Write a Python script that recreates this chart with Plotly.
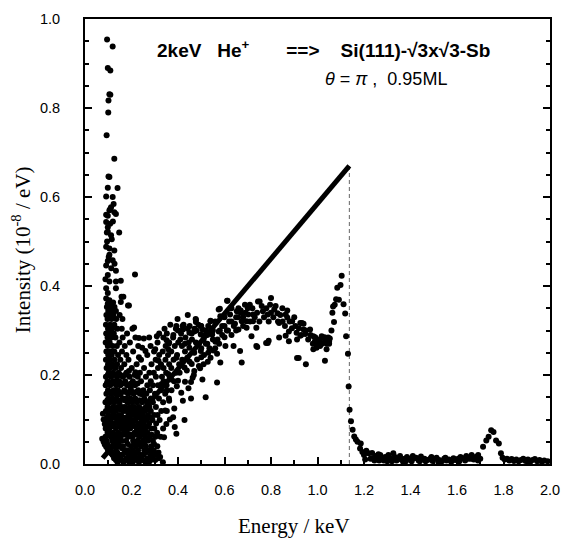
import plotly.graph_objects as go

# ---------------- data ----------------
# left spike at low energy
spike_x = [0.095, 0.119, 0.098, 0.109, 0.105, 0.109, 0.101, 0.100, 0.093, 0.126,
           0.101, 0.105, 0.098, 0.140, 0.091, 0.119, 0.123, 0.112, 0.105, 0.126,
           0.091, 0.109, 0.133, 0.098, 0.091, 0.098, 0.147, 0.098, 0.112, 0.091,
           0.105, 0.126, 0.105, 0.119, 0.098, 0.091, 0.133, 0.215, 0.098, 0.088,
           0.105, 0.133, 0.154, 0.091, 0.133, 0.098, 0.165, 0.091, 0.105, 0.154,
           0.098, 0.185, 0.112, 0.157, 0.189, 0.211, 0.232, 0.253, 0.246, 0.260,
           0.232, 0.189, 0.217, 0.196, 0.168, 0.147, 0.246, 0.115, 0.095, 0.108,
           0.120, 0.102, 0.113, 0.127, 0.094]
spike_y = [0.954, 0.938, 0.890, 0.884, 0.831, 0.830, 0.817, 0.790, 0.739, 0.686,
           0.646, 0.645, 0.621, 0.620, 0.601, 0.600, 0.584, 0.577, 0.570, 0.566,
           0.560, 0.573, 0.562, 0.558, 0.544, 0.532, 0.520, 0.522, 0.514, 0.488,
           0.484, 0.480, 0.470, 0.458, 0.456, 0.446, 0.434, 0.426, 0.425, 0.415,
           0.410, 0.410, 0.412, 0.395, 0.395, 0.384, 0.376, 0.372, 0.368, 0.364,
           0.360, 0.356, 0.355, 0.376, 0.356, 0.307, 0.283, 0.282, 0.261, 0.254,
           0.240, 0.209, 0.206, 0.172, 0.163, 0.157, 0.157, 0.505, 0.500, 0.540,
           0.545, 0.465, 0.440, 0.450, 0.520]

# dense low-energy cloud, listed row by row (intensity level, energies in that row)
cloud_levels = [0.004, 0.013, 0.021, 0.031, 0.040, 0.052, 0.061, 0.070, 0.080, 0.091,
                0.099, 0.110, 0.119, 0.128, 0.139, 0.147, 0.158, 0.166, 0.177, 0.186,
                0.196, 0.205, 0.216, 0.224, 0.234, 0.245, 0.253, 0.265, 0.273, 0.284,
                0.293, 0.304, 0.313, 0.326, 0.335, 0.344, 0.353, 0.363,
                0.009, 0.026, 0.045, 0.066, 0.085, 0.104, 0.123, 0.143, 0.162, 0.181,
                0.200]
cloud_rows = [
    [0.140, 0.165, 0.190, 0.205, 0.232, 0.260, 0.275, 0.335],
    [0.125, 0.152, 0.178, 0.196, 0.222, 0.243, 0.268, 0.290, 0.318],
    [0.118, 0.147, 0.160, 0.187, 0.214, 0.237, 0.251, 0.283, 0.305],
    [0.108, 0.133, 0.171, 0.182, 0.206, 0.228, 0.255, 0.272, 0.296],
    [0.101, 0.128, 0.149, 0.163, 0.198, 0.219, 0.241, 0.262, 0.285, 0.311],
    [0.093, 0.117, 0.139, 0.158, 0.177, 0.207, 0.226, 0.249, 0.270, 0.292],
    [0.088, 0.112, 0.131, 0.152, 0.186, 0.203, 0.234, 0.258, 0.279, 0.303, 0.325],
    [0.097, 0.121, 0.143, 0.167, 0.181, 0.213, 0.229, 0.247, 0.268, 0.310],
    [0.089, 0.106, 0.133, 0.157, 0.175, 0.194, 0.222, 0.238, 0.259, 0.284, 0.298, 0.336],
    [0.095, 0.117, 0.127, 0.148, 0.168, 0.188, 0.206, 0.231, 0.252, 0.276, 0.306],
    [0.086, 0.109, 0.138, 0.161, 0.179, 0.199, 0.216, 0.244, 0.266, 0.290, 0.321],
    [0.100, 0.122, 0.145, 0.155, 0.187, 0.208, 0.226, 0.249, 0.271, 0.297, 0.312],
    [0.090, 0.113, 0.131, 0.166, 0.178, 0.197, 0.219, 0.238, 0.257, 0.283, 0.328, 0.352],
    [0.097, 0.120, 0.140, 0.158, 0.171, 0.192, 0.212, 0.233, 0.262, 0.277, 0.305],
    [0.088, 0.107, 0.126, 0.149, 0.183, 0.203, 0.224, 0.246, 0.269, 0.292, 0.336],
    [0.101, 0.118, 0.136, 0.162, 0.176, 0.195, 0.216, 0.255, 0.283, 0.318, 0.361],
    [0.092, 0.112, 0.131, 0.154, 0.186, 0.209, 0.236, 0.264, 0.301, 0.345],
    [0.099, 0.123, 0.141, 0.169, 0.198, 0.229, 0.251, 0.279, 0.327, 0.372],
    [0.089, 0.108, 0.134, 0.152, 0.181, 0.215, 0.268, 0.292, 0.314, 0.351],
    [0.097, 0.119, 0.128, 0.147, 0.173, 0.206, 0.241, 0.283, 0.338, 0.383],
    [0.090, 0.112, 0.138, 0.162, 0.192, 0.227, 0.262, 0.305, 0.331, 0.364],
    [0.102, 0.121, 0.145, 0.178, 0.236, 0.277, 0.296, 0.349, 0.392],
    [0.093, 0.109, 0.131, 0.155, 0.201, 0.254, 0.314, 0.338, 0.371],
    [0.099, 0.118, 0.138, 0.169, 0.222, 0.286, 0.327, 0.362, 0.405],
    [0.090, 0.107, 0.127, 0.152, 0.187, 0.241, 0.304, 0.346, 0.381, 0.418],
    [0.100, 0.115, 0.142, 0.178, 0.268, 0.319, 0.357, 0.396],
    [0.092, 0.109, 0.126, 0.159, 0.207, 0.297, 0.334, 0.371, 0.430],
    [0.098, 0.119, 0.137, 0.171, 0.229, 0.282, 0.347, 0.386, 0.417],
    [0.089, 0.106, 0.148, 0.193, 0.312, 0.362, 0.401, 0.446],
    [0.097, 0.114, 0.131, 0.162, 0.217, 0.276, 0.337, 0.379, 0.432],
    [0.091, 0.108, 0.124, 0.181, 0.319, 0.352, 0.413, 0.459],
    [0.099, 0.117, 0.139, 0.158, 0.204, 0.342, 0.391, 0.442, 0.471],
    [0.090, 0.108, 0.126, 0.367, 0.424, 0.488],
    [0.097, 0.114, 0.134, 0.161, 0.398, 0.476],
    [0.092, 0.106, 0.122, 0.149, 0.442],
    [0.100, 0.116, 0.133],
    [0.094, 0.109, 0.127],
    [0.102, 0.121],
    [0.133, 0.158, 0.184, 0.213, 0.247, 0.283, 0.302],
    [0.112, 0.139, 0.176, 0.201, 0.226, 0.262, 0.291, 0.316],
    [0.096, 0.122, 0.144, 0.184, 0.211, 0.233, 0.254, 0.297],
    [0.104, 0.126, 0.159, 0.174, 0.196, 0.221, 0.242, 0.287],
    [0.100, 0.122, 0.146, 0.166, 0.186, 0.214, 0.248, 0.271],
    [0.094, 0.119, 0.131, 0.151, 0.172, 0.193, 0.235, 0.258, 0.281],
    [0.105, 0.124, 0.149, 0.185, 0.204, 0.227, 0.248, 0.268],
    [0.096, 0.115, 0.142, 0.171, 0.191, 0.213, 0.235, 0.258],
    [0.104, 0.119, 0.146, 0.177, 0.193, 0.219, 0.245],
    [0.094, 0.116, 0.141, 0.161, 0.197, 0.226],
    [0.098, 0.125, 0.152, 0.172, 0.214],
]

# arcs in the lower-left corner
arc_x = [0.074, 0.080, 0.085, 0.091, 0.098, 0.105, 0.112, 0.120, 0.130, 0.140,
         0.077, 0.080, 0.085, 0.091, 0.098, 0.105, 0.112, 0.119, 0.130, 0.140,
         0.150, 0.161, 0.172, 0.185, 0.195, 0.204, 0.215]
arc_y = [0.057, 0.050, 0.044, 0.039, 0.033, 0.028, 0.024, 0.020, 0.016, 0.013,
         0.113, 0.100, 0.090, 0.083, 0.075, 0.068, 0.062, 0.057, 0.050, 0.044,
         0.039, 0.035, 0.029, 0.024, 0.020, 0.018, 0.015]

# broad band between 0.3 and 1.05 keV
band_x = [0.309, 0.351, 0.393, 0.421, 0.449, 0.477, 0.498, 0.540, 0.302, 0.316,
          0.358, 0.393, 0.358, 0.330, 0.400, 0.428, 0.456, 0.421, 0.456, 0.428,
          0.379, 0.393, 0.386, 0.323,
          0.440, 0.449, 0.470, 0.477, 0.477, 0.463, 0.470, 0.490, 0.498, 0.498,
          0.505, 0.505, 0.510, 0.519, 0.519, 0.526, 0.526, 0.540, 0.540, 0.547,
          0.568, 0.568, 0.575, 0.575, 0.580, 0.582, 0.582, 0.604, 0.611, 0.613,
          0.624, 0.639, 0.653, 0.660, 0.667, 0.674, 0.674, 0.688, 0.695, 0.695,
          0.702, 0.709, 0.716, 0.723, 0.723, 0.737, 0.737, 0.741, 0.744, 0.751,
          0.765, 0.779, 0.786, 0.786, 0.790, 0.796, 0.800, 0.814, 0.828, 0.835,
          0.835, 0.849, 0.863, 0.863, 0.870, 0.877, 0.877, 0.891, 0.905, 0.912,
          0.912, 0.919, 0.926, 0.926, 0.933, 0.940, 0.947, 0.950, 0.968, 0.982,
          0.982, 0.989, 0.996, 1.011, 1.018, 1.018, 1.032, 1.032, 1.039, 1.046,
          1.053,
          0.36, 0.38, 0.40, 0.41, 0.42, 0.43, 0.45, 0.46, 0.48, 0.49,
          0.50, 0.51, 0.52, 0.53, 0.55, 0.56, 0.57, 0.59, 0.60, 0.61,
          0.62, 0.63, 0.64, 0.65, 0.66, 0.67, 0.68, 0.69, 0.70, 0.71,
          0.72, 0.73, 0.74, 0.75, 0.76, 0.77, 0.78, 0.79, 0.80, 0.81,
          0.82, 0.83, 0.84, 0.85, 0.86, 0.87, 0.88, 0.89, 0.90, 0.91,
          0.92, 0.93, 0.94, 0.95, 0.96, 0.97, 0.98, 0.99, 1.00, 1.01,
          1.02, 1.03, 1.04, 1.05,
          0.45, 0.47, 0.50, 0.52, 0.55, 0.58, 0.60, 0.63, 0.65, 0.50,
          0.53, 0.56,
          0.345, 0.352, 0.362, 0.371, 0.384, 0.395, 0.407, 0.414, 0.430, 0.438,
          0.445, 0.459, 0.468, 0.482, 0.495, 0.512, 0.528, 0.535, 0.552, 0.561,
          0.577, 0.590, 0.600, 0.615, 0.630, 0.645, 0.658, 0.670, 0.680, 0.350,
          0.365, 0.340]
band_y = [0.287, 0.278, 0.310, 0.302, 0.295, 0.324, 0.310, 0.321, 0.258, 0.232,
          0.258, 0.239, 0.202, 0.180, 0.187, 0.217, 0.184, 0.142, 0.147, 0.099,
          0.105, 0.068, 0.083, 0.016,
          0.239, 0.261, 0.298, 0.319, 0.273, 0.194, 0.209, 0.220, 0.254, 0.291,
          0.302, 0.190, 0.224, 0.150, 0.291, 0.270, 0.290, 0.322, 0.239, 0.291,
          0.248, 0.183, 0.298, 0.347, 0.349, 0.332, 0.228, 0.265, 0.367, 0.367,
          0.336, 0.265, 0.343, 0.302, 0.254, 0.321, 0.228, 0.358, 0.306, 0.321,
          0.336, 0.358, 0.287, 0.321, 0.336, 0.306, 0.265, 0.263, 0.365, 0.365,
          0.343, 0.272, 0.336, 0.272, 0.277, 0.358, 0.373, 0.347, 0.339, 0.317,
          0.284, 0.350, 0.336, 0.288, 0.329, 0.298, 0.276, 0.321, 0.310, 0.280,
          0.238, 0.238, 0.317, 0.288, 0.317, 0.302, 0.292, 0.224, 0.302, 0.287,
          0.258, 0.276, 0.261, 0.265, 0.284, 0.287, 0.280, 0.232, 0.258, 0.284,
          0.282,
          0.270, 0.290, 0.300, 0.280, 0.310, 0.270, 0.310, 0.280, 0.300, 0.270,
          0.310, 0.280, 0.300, 0.310, 0.300, 0.320, 0.280, 0.310, 0.330, 0.300,
          0.320, 0.350, 0.310, 0.330, 0.350, 0.340, 0.310, 0.340, 0.350, 0.320,
          0.350, 0.330, 0.340, 0.320, 0.355, 0.330, 0.350, 0.320, 0.340, 0.330,
          0.355, 0.320, 0.335, 0.320, 0.310, 0.345, 0.320, 0.305, 0.330, 0.295,
          0.305, 0.290, 0.315, 0.300, 0.280, 0.290, 0.270, 0.285, 0.270, 0.280,
          0.270, 0.285, 0.270, 0.275,
          0.230, 0.250, 0.260, 0.270, 0.280, 0.300, 0.310, 0.320, 0.300, 0.240,
          0.250, 0.260,
          0.120, 0.165, 0.142, 0.190, 0.125, 0.175, 0.205, 0.160, 0.185, 0.210,
          0.170, 0.225, 0.200, 0.235, 0.215, 0.245, 0.230, 0.260, 0.255, 0.275,
          0.270, 0.290, 0.285, 0.300, 0.290, 0.315, 0.330, 0.345, 0.330, 0.090,
          0.100, 0.060]

# peak just below the edge and the sharp drop
peak_x = [1.050, 1.060, 1.064, 1.067, 1.071, 1.074, 1.080, 1.085, 1.092, 1.099,
          1.104, 1.112, 1.119, 1.123, 1.131, 1.134, 1.138, 1.144, 1.151, 1.158,
          1.165, 1.172, 1.183, 1.186, 1.193]
peak_y = [0.270, 0.300, 0.340, 0.354, 0.319, 0.358, 0.370, 0.396, 0.369, 0.402,
          0.423, 0.359, 0.338, 0.287, 0.248, 0.174, 0.122, 0.096, 0.077, 0.062,
          0.055, 0.050, 0.035, 0.046, 0.027]

# high-energy tail with the small peak near 1.75 keV
tail_x = [1.200, 1.210, 1.220, 1.235, 1.240, 1.250, 1.256, 1.265, 1.270, 1.280,
          1.291, 1.300, 1.305, 1.315, 1.326, 1.333, 1.340, 1.347, 1.355, 1.368,
          1.375, 1.385, 1.396, 1.405, 1.415, 1.424, 1.435, 1.445, 1.455, 1.465,
          1.473, 1.485, 1.495, 1.502, 1.512, 1.523, 1.535, 1.545, 1.555, 1.565,
          1.575, 1.585, 1.595, 1.605, 1.615, 1.628, 1.640, 1.650, 1.663, 1.672,
          1.680, 1.691, 1.700, 1.712, 1.726, 1.736, 1.747, 1.757, 1.768, 1.780,
          1.789, 1.796, 1.805, 1.815, 1.825, 1.835, 1.845, 1.855, 1.865, 1.875,
          1.885, 1.895, 1.905, 1.915, 1.925, 1.935, 1.945, 1.955, 1.965, 1.975,
          1.990,
          1.205, 1.228, 1.245, 1.262, 1.285, 1.310, 1.320, 1.360, 1.380, 1.410,
          1.440, 1.460, 1.490, 1.520, 1.550, 1.580, 1.610, 1.635, 1.660, 1.690]
tail_y = [0.020, 0.030, 0.024, 0.025, 0.012, 0.018, 0.016, 0.008, 0.020, 0.012,
          0.016, 0.006, 0.020, 0.010, 0.024, 0.016, 0.008, 0.013, 0.018, 0.005,
          0.012, 0.016, 0.011, 0.006, 0.013, 0.014, 0.008, 0.017, 0.010, 0.006,
          0.009, 0.012, 0.007, 0.011, 0.014, 0.009, 0.006, 0.012, 0.008, 0.010,
          0.005, 0.013, 0.009, 0.012, 0.016, 0.013, 0.018, 0.012, 0.020, 0.010,
          0.016, 0.020, 0.012, 0.039, 0.053, 0.061, 0.076, 0.072, 0.053, 0.046,
          0.024, 0.014, 0.010, 0.012, 0.008, 0.011, 0.007, 0.010, 0.006, 0.009,
          0.012, 0.007, 0.010, 0.005, 0.009, 0.011, 0.006, 0.009, 0.005, 0.008,
          0.006,
          0.010, 0.012, 0.008, 0.022, 0.008, 0.014, 0.006, 0.010, 0.006, 0.018,
          0.006, 0.012, 0.016, 0.004, 0.014, 0.008, 0.006, 0.008, 0.012, 0.008]

# straight line (fit) and the dashed edge marker
line_x = [0.076, 1.137]
line_y = [0.013, 0.670]
edge_x = [1.137, 1.137]
edge_y = [0.0, 0.670]

x_tick_step = 0.2
x_minor_step = 0.1
y_tick_step = 0.2
y_minor_step = 0.05

# ---------------- assemble ----------------
cloud_x, cloud_y = [], []
for lvl, row in zip(cloud_levels, cloud_rows):
    for xv in row:
        cloud_x.append(xv)
        cloud_y.append(lvl)

all_x = spike_x + cloud_x + arc_x + band_x + peak_x + tail_x
all_y = spike_y + cloud_y + arc_y + band_y + peak_y + tail_y

fig = go.Figure()
fig.add_trace(go.Scatter(x=edge_x, y=edge_y, mode="lines",
                         line=dict(color="#666", width=1, dash="4px,3px"),
                         hoverinfo="skip", cliponaxis=False))
fig.add_trace(go.Scatter(x=all_x, y=all_y, mode="markers",
                         marker=dict(color="black", size=6, line=dict(width=0)),
                         cliponaxis=False))
fig.add_trace(go.Scatter(x=line_x, y=line_y, mode="lines",
                         line=dict(color="black", width=5),
                         cliponaxis=False))

sans = "Liberation Sans, Arial, sans-serif"
serif = "Liberation Serif, Times New Roman, serif"
tick_font = dict(family=sans, size=14.5, color="black")
nb = "\u00a0"

fig.update_layout(
    width=571, height=544,
    margin=dict(l=85, r=11, t=15, b=80),
    paper_bgcolor="white", plot_bgcolor="white",
    showlegend=False,
    xaxis=dict(range=[0, 2.0], tickmode="linear", tick0=0, dtick=x_tick_step, tickformat=".1f",
               ticks="inside", ticklen=7, tickwidth=1.5, tickcolor="black",
               minor=dict(dtick=x_minor_step, ticks="inside", ticklen=4, tickwidth=1.5, tickcolor="black"),
               showline=True, linewidth=2, linecolor="black", mirror=True,
               showgrid=False, zeroline=False, tickfont=tick_font, ticklabelstandoff=12),
    yaxis=dict(range=[0, 1.0], tickmode="linear", tick0=0, dtick=y_tick_step, tickformat=".1f",
               ticks="inside", ticklen=7, tickwidth=1.5, tickcolor="black",
               minor=dict(dtick=y_minor_step, ticks="inside", ticklen=4, tickwidth=1.5, tickcolor="black"),
               showline=True, linewidth=2, linecolor="black", mirror="ticks",
               showgrid=False, zeroline=False, tickfont=tick_font, ticklabelstandoff=20),
    annotations=[
        dict(text="<b>2keV" + nb * 3 + "He<sup>+</sup>" + nb * 7 + "==>" + nb * 4
                  + "Si(111)-\u221a3x\u221a3-Sb</b>",
             xref="paper", yref="paper", x=0.1516, y=0.933, showarrow=False,
             xanchor="left", yanchor="middle",
             font=dict(family=sans, size=19, color="black")),
        dict(text="<i>\u03b8</i> = <i>\u03c0</i> ," + nb * 2 + "0.95ML",
             xref="paper", yref="paper", x=0.5116, y=0.866, showarrow=False,
             xanchor="left", yanchor="middle",
             font=dict(family=sans, size=18, color="black")),
        dict(text="Energy / keV", xref="paper", yref="paper", x=0.45, y=-0.14,
             showarrow=False, xanchor="center", yanchor="middle",
             font=dict(family=serif, size=21, color="black")),
        dict(text="Intensity (10<sup>-8</sup> / eV)", xref="paper", yref="paper",
             x=-0.136, y=0.482, showarrow=False, textangle=-90,
             xanchor="center", yanchor="middle",
             font=dict(family=serif, size=21, color="black")),
    ],
)

fig.write_html("out.html", config={"displayModeBar": False},
               post_script="document.body.style.margin='0';")
